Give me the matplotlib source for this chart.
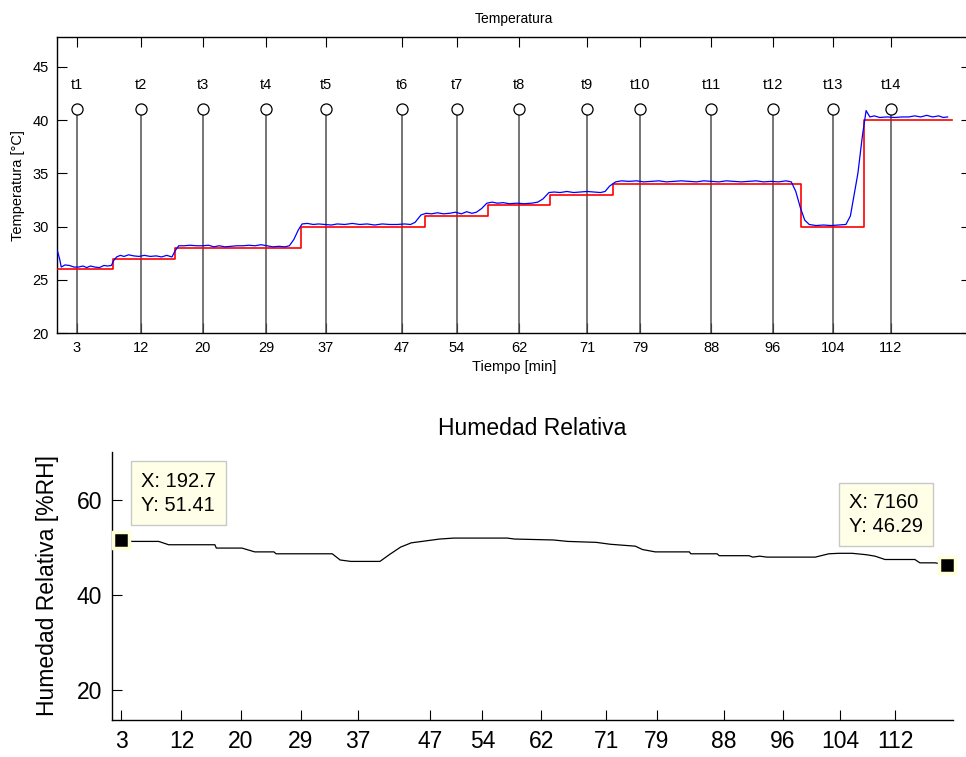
import matplotlib
matplotlib.use('Agg')
import matplotlib.pyplot as plt
import numpy

plt.rcParams['font.family'] = ['Liberation Sans', 'DejaVu Sans']

# Marker times t1..t14 (minutes) and the rounded labels shown on the axes
tMarkMin = [3.2, 11.7, 20.0, 28.5, 36.5, 46.6, 54.0, 62.3, 71.4, 78.5, 88.0, 96.2, 104.3, 112.0]
tMarkLabel = ['3', '12', '20', '29', '37', '47', '54', '62', '71', '79', '88', '96', '104', '112']
tMarkName = ['t%d' % (i + 1) for i in range(len(tMarkMin))]

# Temperature set point (minutes where each level starts, level in degC)
spTime = [0.6, 8.05, 16.3, 33.1, 49.7, 58.2, 66.5, 74.8, 100.0, 108.4, 120.2]
spTemp = [26, 27, 28, 30, 31, 32, 33, 34, 30, 40, 40]

# Measured temperature
tempTime = [0.6, 0.9, 1.1, 1.6, 2.2, 2.8, 3.4, 4.0, 4.5, 5.0, 5.6, 6.2, 6.8, 7.3, 7.8, 8.1, 8.5,
            9.0, 9.5, 10.1, 10.8, 11.5, 12.2, 13.0, 13.8, 14.5, 15.2, 15.9, 16.3, 16.8, 17.5,
            18.3, 19.2, 20.0, 20.8, 21.5, 22.2, 23.0, 23.8, 24.6, 25.4, 26.2, 27.0, 27.8, 28.6,
            29.4, 30.2, 31.0, 31.6, 32.2, 32.8, 33.3, 34.0, 34.8, 35.5, 36.3, 37.2, 38.0, 39.0,
            40.0, 41.0, 42.0, 43.0, 44.0, 45.0, 46.0, 47.0, 47.8, 48.4, 49.2, 49.9, 50.6, 51.4,
            52.2, 53.0, 53.8, 54.6, 55.3, 56.0, 56.6, 57.3, 58.0, 58.7, 59.4, 60.2, 61.0, 62.0,
            63.0, 64.0, 64.8, 65.5, 66.3, 67.0, 67.8, 68.7, 69.6, 70.5, 71.4, 72.3, 73.2, 73.8,
            74.4, 75.2, 76.0, 77.0, 78.0, 79.0, 80.0, 81.0, 82.0, 83.0, 84.0, 85.0, 86.0, 87.0,
            88.0, 89.0, 90.0, 91.0, 92.0, 93.0, 94.0, 95.0, 96.0, 97.0, 98.0, 98.7, 99.3, 99.9,
            100.5, 101.1, 102.0, 103.0, 104.0, 105.0, 106.0, 106.6, 107.1, 107.6, 108.2, 108.7,
            109.2, 109.8, 110.5, 111.5, 112.5, 113.5, 114.4, 115.2, 116.0, 116.8, 117.6, 118.4,
            119.0, 119.6]
tempVal = [27.7, 26.9, 26.2, 26.4, 26.35, 26.2, 26.2, 26.3, 26.15, 26.3, 26.2, 26.15, 26.35, 26.3,
           26.35, 26.8, 27.15, 27.3, 27.2, 27.35, 27.25, 27.2, 27.3, 27.2, 27.25, 27.15, 27.3,
           27.15, 27.7, 28.2, 28.2, 28.25, 28.2, 28.2, 28.25, 28.1, 28.2, 28.1, 28.15, 28.2, 28.2,
           28.25, 28.2, 28.3, 28.2, 28.1, 28.15, 28.1, 28.2, 28.8, 29.7, 30.25, 30.3, 30.2, 30.25,
           30.2, 30.15, 30.25, 30.2, 30.3, 30.2, 30.25, 30.15, 30.25, 30.2, 30.2, 30.25, 30.2,
           30.4, 31.1, 31.25, 31.2, 31.3, 31.2, 31.25, 31.35, 31.2, 31.4, 31.25, 31.35, 31.7, 32.2,
           32.3, 32.2, 32.25, 32.15, 32.2, 32.15, 32.2, 32.3, 32.6, 33.2, 33.25, 33.2, 33.3, 33.2,
           33.25, 33.3, 33.25, 33.2, 33.3, 33.8, 34.2, 34.3, 34.25, 34.3, 34.2, 34.25, 34.3, 34.2,
           34.25, 34.3, 34.25, 34.2, 34.3, 34.25, 34.2, 34.3, 34.25, 34.2, 34.25, 34.3, 34.2,
           34.25, 34.2, 34.3, 34.2, 33.3, 31.8, 30.6, 30.2, 30.1, 30.15, 30.1, 30.15, 30.2, 31.0,
           33.0, 35.0, 38.5, 40.9, 40.3, 40.4, 40.25, 40.3, 40.25, 40.3, 40.3, 40.4, 40.3, 40.45,
           40.3, 40.4, 40.25, 40.3]

# Relative humidity (time in seconds, %RH)
rhTime = [192.7, 288, 510, 594, 984, 996, 1212, 1320, 1482, 1500, 1974, 2040, 2130, 2376, 2460,
          2550, 2640, 2760, 2880, 3000, 3450, 3510, 3840, 3960, 4200, 4320, 4530, 4590, 4698,
          4986, 4998, 5220, 5238, 5490, 5520, 5580, 5640, 5724, 6048, 6162, 6246, 6360, 6480,
          6552, 6636, 6888, 6930, 7056, 7160]
rhVal = [51.41, 51.2, 51.2, 50.5, 50.5, 49.8, 49.8, 49.0, 49.0, 48.6, 48.6, 47.3, 47.0, 47.0, 48.5,
         50.0, 50.9, 51.3, 51.7, 51.9, 51.9, 51.7, 51.5, 51.2, 51.0, 50.6, 50.2, 49.5, 49.0, 49.0,
         48.6, 48.6, 48.2, 48.2, 47.9, 48.1, 47.9, 47.9, 47.9, 48.6, 48.7, 48.7, 48.4, 48.1, 47.4,
         47.4, 46.7, 46.7, 46.29]

fig = plt.figure(figsize = (9.66, 7.57), dpi = 100)

# ---- Temperature ----
ax1 = fig.add_axes([0.059, 0.560, 0.946, 0.391])
ax1.plot(spTime, spTemp, drawstyle = 'steps-post', color = '#ff0000', linewidth = 1.2, zorder = 3)
ax1.plot(tempTime, tempVal, color = '#0000ff', linewidth = 0.9, zorder = 4)
ax1.vlines(tMarkMin, 20, 41, color = '#505050', linewidth = 1.1, zorder = 2)
ax1.plot(tMarkMin, [41] * len(tMarkMin), linestyle = 'none', marker = 'o', markersize = 8,
         markerfacecolor = 'white', markeredgecolor = 'black', markeredgewidth = 0.9, zorder = 5)
for x, name in zip(tMarkMin, tMarkName):
    ax1.text(x, 42.6, name, ha = 'center', va = 'bottom', fontsize = 10.5)

ax1.set_xlim(0.53, 122.7)
ax1.set_ylim(20, 47.8)
ax1.set_xticks(tMarkMin)
ax1.set_xticklabels(tMarkLabel)
ax1.set_yticks(numpy.arange(20, 46, 5))
ax1.tick_params(direction = 'in', top = True, right = True, length = 7, width = 0.8,
                labelsize = 10.5, pad = 6)
for s in ax1.spines.values():
    s.set_linewidth(1.0)
ax1.set_title('Temperatura', fontsize = 10, pad = 10)
ax1.set_xlabel('Tiempo [min]', fontsize = 10.5, labelpad = 3)
ax1.set_ylabel('Temperatura [°C]', fontsize = 10.5, labelpad = 5)

# ---- Relative humidity ----
ax2 = fig.add_axes([0.116, 0.049, 0.8706, 0.354])
ax2.plot(rhTime, rhVal, color = 'black', linewidth = 0.9)
ax2.set_xlim(116.6, 7210)
ax2.set_ylim(13.7, 70)
ax2.set_xticks([m * 60 for m in tMarkMin])
ax2.set_xticklabels(tMarkLabel)
ax2.set_yticks([20, 40, 60])
ax2.spines['top'].set_visible(False)
ax2.spines['right'].set_visible(False)
ax2.spines['left'].set_linewidth(1.0)
ax2.spines['bottom'].set_linewidth(1.0)
ax2.tick_params(direction = 'in', length = 7, width = 0.8, labelsize = 16.5, pad = 7)
ax2.set_title('Humedad Relativa', fontsize = 16.5, pad = 12)
ax2.set_ylabel('Humedad Relativa [%RH]', fontsize = 16.5, labelpad = 13)

# Data tips on first and last humidity samples
tips = [(rhTime[0], rhVal[0], 41, 34), (rhTime[-1], rhVal[-1], -44, 36)]
for x, y, dx, dy in tips:
    ax2.plot(x, y, marker = 's', markersize = 11, markerfacecolor = 'black',
             markeredgecolor = '#ffffd8', markeredgewidth = 2.5, clip_on = False, zorder = 6)
    ax2.annotate('X: %s\nY: %.2f' % (('%.1f' % x) if x % 1 else '%d' % x, y),
                 xy = (x, y), xytext = (dx, dy), textcoords = 'offset points',
                 ha = 'center', va = 'center', multialignment = 'left',
                 fontsize = 14.5, linespacing = 1.35,
                 bbox = dict(boxstyle = 'square,pad=0.5', facecolor = '#ffffe8',
                             edgecolor = '#c8c8c8', linewidth = 1.0),
                 annotation_clip = False, zorder = 7)

plt.savefig('out.png', dpi = 100)
